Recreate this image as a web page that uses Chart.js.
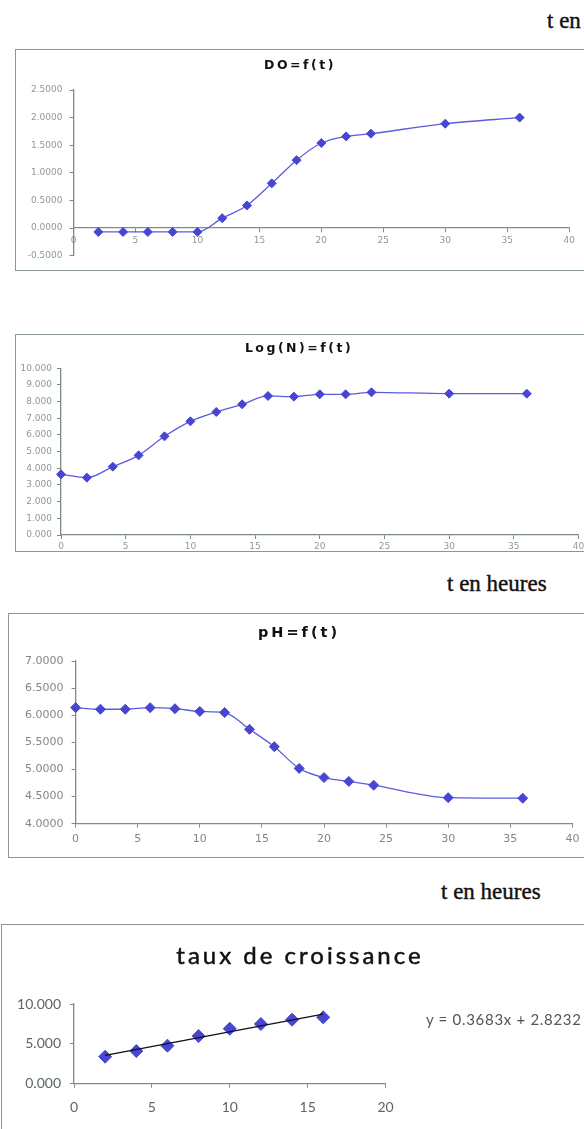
<!DOCTYPE html>
<html><head><meta charset="utf-8">
<script src="https://cdn.jsdelivr.net/npm/chart.js@4.4.1/dist/chart.umd.min.js"></script>
<style>
html,body{margin:0;padding:0;background:#fff;}
body{width:584px;height:1129px;position:relative;overflow:hidden;}
.box{position:absolute;border:1.5px solid #8a9797;box-sizing:border-box;}
canvas{position:absolute;left:0;}
.t{position:absolute;white-space:nowrap;line-height:1;}
.title{transform:translate(-50%,-50%);font-family:"DejaVu Sans";font-weight:bold;color:#111;}
.heures{font-family:"Liberation Serif";font-size:23px;color:#111;transform:translateY(-50%);-webkit-text-stroke:0.4px #111;}
</style></head><body>
<div class="box" style="left:15px;top:49px;width:620px;height:222px"></div>
<div class="box" style="left:15px;top:334px;width:620px;height:218px"></div>
<div class="box" style="left:8px;top:613px;width:620px;height:245px"></div>
<div class="box" style="left:1px;top:924px;width:620px;height:260px"></div>

<canvas id="c1" width="584" height="220" style="top:50px"></canvas>
<canvas id="c2" width="584" height="216" style="top:335px"></canvas>
<canvas id="c3" width="584" height="243" style="top:614px"></canvas>
<canvas id="c4" width="584" height="203" style="top:926px"></canvas>

<div class="t title" style="left:300px;top:65px;font-size:12.5px;letter-spacing:2.5px">DO=f(t)</div>
<div class="t title" style="left:299px;top:348px;font-size:12.5px;letter-spacing:2.5px">Log(N)=f(t)</div>
<div class="t title" style="left:299px;top:632px;font-size:14.5px;letter-spacing:3px">pH=f(t)</div>
<div class="t title" style="left:300px;top:955px;font-size:24px;letter-spacing:3px;font-family:Lato;font-weight:normal;-webkit-text-stroke:0.5px #111">taux de croissance</div>

<div class="t heures" style="left:547px;top:20px">t en</div>
<div class="t heures" style="left:447px;top:583px">t en heures</div>
<div class="t heures" style="left:441px;top:891px">t en heures</div>
<div class="t" style="left:426px;top:1019px;transform:translateY(-50%);font-family:Lato;font-size:15px;letter-spacing:0.7px;color:#555">y = 0.3683x + 2.8232</div>

<script>
// ---- data ----
const doTime   = [2, 4, 6, 8, 10, 12, 14, 16, 18, 20, 22, 24, 30, 36];
const doValues = [-0.07, -0.07, -0.07, -0.07, -0.07, 0.18, 0.41, 0.81, 1.23, 1.54, 1.66, 1.71, 1.89, 2.00];

const logNTime   = [0, 2, 4, 6, 8, 10, 12, 14, 16, 18, 20, 22, 24, 30, 36];
const logNValues = [3.64, 3.44, 4.10, 4.78, 5.92, 6.82, 7.38, 7.84, 8.34, 8.30, 8.44, 8.44, 8.56, 8.48, 8.48];

const phTime   = [0, 2, 4, 6, 8, 10, 12, 14, 16, 18, 20, 22, 24, 30, 36];
const phValues = [6.14, 6.11, 6.11, 6.14, 6.12, 6.07, 6.05, 5.74, 5.42, 5.02, 4.85, 4.78, 4.71, 4.48, 4.47];

const tauxTime   = [2, 4, 6, 8, 10, 12, 14, 16];
const tauxValues = [3.39, 4.10, 4.77, 5.98, 6.90, 7.49, 8.03, 8.33];
const trendTime   = [2, 16];
const trendValues = [3.560, 8.716];

// axis ranges [min, max, step]
const doXRange = [0, 40, 5],  doYRange = [-0.5, 2.5, 0.5];
const logNXRange = [0, 40, 5], logNYRange = [0, 10, 1];
const phXRange = [0, 40, 5],  phYRange = [4, 7, 0.5];
const tauxXRange = [0, 20, 5], tauxYRange = [0, 10, 5];

// ---- drawing ----
const AX = '#7d8b8b';
const pts = (xs, ys) => xs.map((x, i) => ({x: x, y: ys[i]}));

function seriesStyle(r) {
  return {showLine: true, cubicInterpolationMode: 'monotone', borderColor: '#5c5ce0', borderWidth: 1.3,
    pointStyle: 'rectRot', pointRadius: r, pointBackgroundColor: '#4646d2',
    pointBorderColor: '#4646d2', pointBorderWidth: 1, clip: false};
}

function build(id, o) {
  const font = {family: o.family || 'DejaVu Sans', size: o.fs};
  return new Chart(document.getElementById(id), {
    type: 'scatter',
    data: {datasets: o.datasets},
    options: {
      responsive: false, animation: false, devicePixelRatio: 1,
      layout: {padding: o.padding},
      plugins: {legend: {display: false}, tooltip: {enabled: false}, title: {display: false}},
      scales: {
        x: {
          type: 'linear', position: o.xPos || 'bottom',
          min: o.xr[0], max: o.xr[1],
          ticks: {stepSize: o.xr[2], autoSkip: false, maxRotation: 0, padding: o.xPad,
                  color: o.tc, font: font, callback: v => String(v)},
          grid: {drawOnChartArea: false, drawTicks: true, tickLength: 4, color: AX},
          border: {display: true, color: AX, width: 1.3},
          afterFit: s => { if (o.xH != null) s.height = o.xH; s.paddingLeft = 0; s.paddingRight = 0; }
        },
        y: {
          type: 'linear', position: 'left',
          min: o.yr[0], max: o.yr[1],
          ticks: {stepSize: o.yr[2], autoSkip: false, padding: o.yPad,
                  color: o.tc, font: font, callback: v => v.toFixed(o.dec)},
          grid: {drawOnChartArea: false, drawTicks: true, tickLength: 4, color: AX},
          border: {display: true, color: AX, width: 1.3},
          afterFit: s => { s.width = o.yW; s.paddingTop = 0; s.paddingBottom = 0; }
        }
      }
    }
  });
}

build('c1', {
  datasets: [Object.assign({data: pts(doTime, doValues)}, seriesStyle(4.5))],
  padding: {top: 40, bottom: 14.3, left: 0, right: 14.8},
  xr: doXRange, yr: doYRange, xPos: {y: 0}, yW: 73.5,
  fs: 9, tc: '#8f9898', dec: 4, xPad: 3, yPad: 7
});

build('c2', {
  datasets: [Object.assign({data: pts(logNTime, logNValues)}, seriesStyle(4.5))],
  padding: {top: 33.3, bottom: 0, left: 0, right: 3},
  xr: logNXRange, yr: logNYRange, xH: 16, yW: 61,
  fs: 9, tc: '#8f9898', dec: 3, xPad: 2, yPad: 5
});

build('c3', {
  datasets: [Object.assign({data: pts(phTime, phValues)}, seriesStyle(5))],
  padding: {top: 47, bottom: 0, left: 0, right: 11.6},
  xr: phXRange, yr: phYRange, xH: 33.3, yW: 75.6,
  fs: 11, tc: '#7f8888', dec: 4, xPad: 5, yPad: 8
});

build('c4', {
  datasets: [
    {data: pts(trendTime, trendValues), showLine: true, tension: 0, borderColor: '#111',
     borderWidth: 1.3, pointRadius: 0, clip: false},
    {data: pts(tauxTime, tauxValues), showLine: false, pointStyle: 'rectRot', pointRadius: 6.5,
     pointBackgroundColor: '#4646d2', pointBorderColor: '#4646d2', clip: false}
  ],
  padding: {top: 78, bottom: 0, left: 0, right: 198.5},
  xr: tauxXRange, yr: tauxYRange, xH: 45.3, yW: 74,
  fs: 14, family: 'Lato', tc: '#5b6666', dec: 3, xPad: 11, yPad: 9
});
</script>
</body></html>
